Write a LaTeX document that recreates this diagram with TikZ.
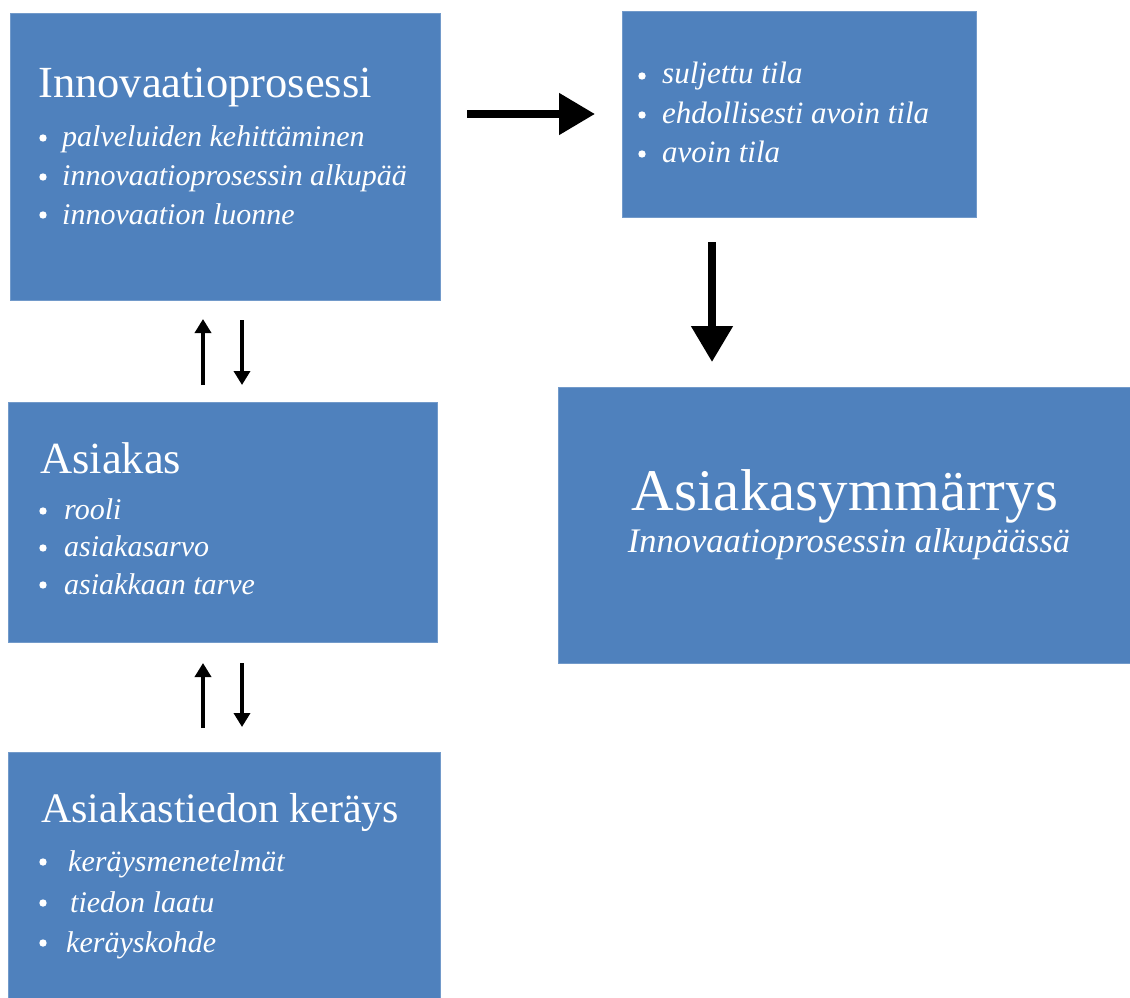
\documentclass[tikz,border=0pt]{standalone}
\usepackage{fontspec}
\setmainfont{Liberation Serif}
\usetikzlibrary{arrows.meta}
\definecolor{boxblue}{HTML}{4F81BD}
\tikzset{
  box/.style={fill=boxblue, draw=boxblue!80!white, line width=0.8pt, inner sep=0pt, outer sep=0pt, anchor=north west},
  headline/.style={text=white, inner sep=0pt, anchor=base west, font=\fontsize{44.5}{50}\selectfont},
  itemtext/.style={text=white, inner sep=0pt, anchor=base west, font=\fontsize{30}{36}\selectfont\itshape},
  bigarrow/.style={line width=8pt, -{Triangle[length=36pt, width=40pt]}},
  smallarrow/.style={line width=3.5pt, -{Triangle[length=14pt, width=16pt]}},
}
\newcommand{\bulletdot}[2]{\fill[white] (#1,#2) circle (3.7);}
\begin{document}
\begin{tikzpicture}[x=1pt, y=-1pt]
\useasboundingbox (0,0) rectangle (1130,998);

% boxes
\node[box, minimum width=430pt, minimum height=287pt] (inno) at (10,13) {};
\node[box, minimum width=354pt, minimum height=206pt] (tila) at (622,11) {};
\node[box, minimum width=429pt, minimum height=240pt] (asi) at (8,402) {};
\node[box, minimum width=432pt, minimum height=250pt] (keray) at (8,752) {};
\node[box, minimum width=572pt, minimum height=276pt] (ymm) at (558,387) {};

% Innovaatioprosessi
\node[headline] (innot) at (38,97) {Innovaatioprosessi};
\bulletdot{43}{138}\bulletdot{43}{177}\bulletdot{43}{215}
\node[itemtext] (inno1) at (62,146) {palveluiden kehittäminen};
\node[itemtext] (inno2) at (62,185) {innovaatioprosessin alkupää};
\node[itemtext] (inno3) at (62,224) {innovaation luonne};

% tilat
\bulletdot{642}{76}\bulletdot{642}{115}\bulletdot{642}{154}
\node[itemtext, font=\fontsize{31}{36}\selectfont\itshape] (tila1) at (662,84) {suljettu tila};
\node[itemtext, font=\fontsize{31}{36}\selectfont\itshape] (tila2) at (662,123) {ehdollisesti avoin tila};
\node[itemtext, font=\fontsize{31}{36}\selectfont\itshape] (tila3) at (662,162) {avoin tila};

% Asiakas
\node[headline] (asit) at (40,473) {Asiakas};
\bulletdot{43}{511}\bulletdot{43}{548}\bulletdot{43}{585}
\node[itemtext] (asi1) at (64,519) {rooli};
\node[itemtext] (asi2) at (64,556) {asiakasarvo};
\node[itemtext] (asi3) at (64,594) {asiakkaan tarve};

% Asiakastiedon keräys
\node[headline, font=\fontsize{42}{50}\selectfont] (krt) at (41,822) {Asiakastiedon keräys};
\bulletdot{43}{862}\bulletdot{43}{903}\bulletdot{43}{943}
\node[itemtext] (kr1) at (68,871) {keräysmenetelmät};
\node[itemtext] (kr2) at (70,912) {tiedon laatu};
\node[itemtext] (kr3) at (66,952) {keräyskohde};

% Asiakasymmärrys
\node[text=white, inner sep=0pt, anchor=base, font=\fontsize{59}{66}\selectfont] (ymmt) at (845,510) {Asiakasymmärrys};
\node[text=white, inner sep=0pt, anchor=base, font=\fontsize{34.5}{40}\selectfont\itshape] (ymms) at (849,552) {Innovaatioprosessin alkupäässä};

% connectors
\draw[bigarrow, shorten <=27pt, shorten >=27pt] (inno.east |- tila.west) -- (tila.west);
\draw[bigarrow, shorten <=25pt, shorten >=25pt] ([xshift=90pt]tila.south west) -- ([xshift=90pt]tila.south west |- ymm.north);

\draw[smallarrow, shorten <=17pt, shorten >=19pt] ([xshift=-19.5pt]asi.north) -- ([xshift=-19.5pt]asi.north |- inno.south);
\draw[smallarrow, shorten <=20pt, shorten >=17pt] ([xshift=19.5pt]asi.north |- inno.south) -- ([xshift=19.5pt]asi.north);

\draw[smallarrow, shorten <=24pt, shorten >=21pt] ([xshift=-19.5pt]asi.south |- keray.north) -- ([xshift=-19.5pt]asi.south);
\draw[smallarrow, shorten <=21pt, shorten >=25pt] ([xshift=19.5pt]asi.south) -- ([xshift=19.5pt]asi.south |- keray.north);
\end{tikzpicture}
\end{document}
